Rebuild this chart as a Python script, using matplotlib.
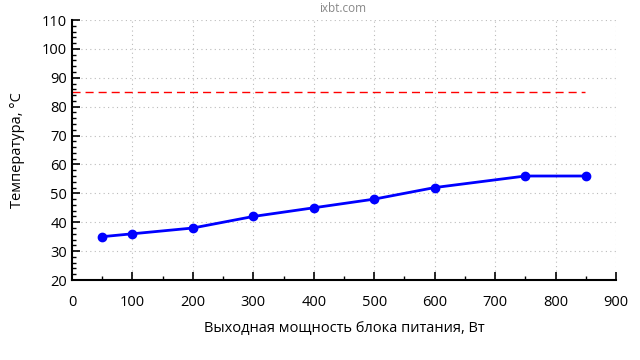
import matplotlib.pyplot as plt
from matplotlib.ticker import MultipleLocator

# данные
power_w = [50, 100, 200, 300, 400, 500, 600, 750, 850]
temp_c = [35, 36, 38, 42, 45, 48, 52, 56, 56]
limit_x = [0, 848]
limit_y = [85, 85]

plt.rcParams['font.family'] = ['Open Sans', 'DejaVu Sans']

fig = plt.figure(figsize=(6.4, 3.6), dpi=100)
ax = fig.add_axes([0.1125, 0.2222, 0.85, 0.7222])

ax.plot(limit_x, limit_y, color='red', linestyle=(0, (5.8, 3.6)), linewidth=1)
ax.plot(power_w, temp_c, color='#0000ff', linewidth=2, marker='o', markersize=6)

ax.set_xlim(0, 900)
ax.set_ylim(20, 110)
ax.xaxis.set_major_locator(MultipleLocator(100))
ax.xaxis.set_minor_locator(MultipleLocator(50))
ax.yaxis.set_major_locator(MultipleLocator(10))
ax.yaxis.set_minor_locator(MultipleLocator(2))
ax.tick_params(which='both', direction='in', labelsize=10.5, color='black')
ax.tick_params(which='major', length=6, width=1.2)
ax.tick_params(which='minor', length=3, width=1)
ax.tick_params(axis='x', pad=11)

ax.spines['top'].set_visible(False)
ax.spines['right'].set_visible(False)
ax.spines['left'].set_linewidth(1.5)
ax.spines['bottom'].set_linewidth(1.5)

ax.grid(True, which='major', linestyle=(0, (1, 3)), color='#bbbbbb', linewidth=0.8)
ax.set_axisbelow(True)

ax.set_xlabel('Выходная мощность блока питания, Вт', fontsize=10.5, labelpad=8)
ax.set_ylabel('Температура, °C', fontsize=10.5, labelpad=12)

fig.text(0.536, 0.975, 'ixbt.com', ha='center', va='center', fontsize=8.5, color='#888888')

fig.savefig('out.png', dpi=100)
